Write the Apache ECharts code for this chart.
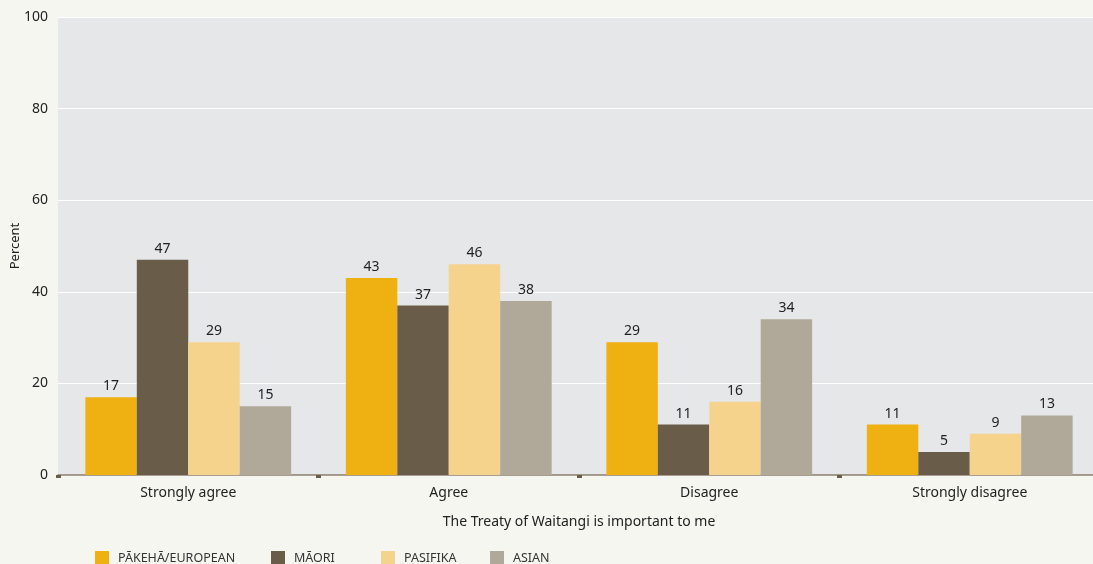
<html style="height: 100%">
<head>
<meta charset="utf-8">
</head>
<body style="height: 100%; width: 100%; margin: 0; background: #f6f6f1">
<div id="container" style="height: 100%; width: 100%;"></div>
<script src="https://cdn.jsdelivr.net/npm/echarts@6/dist/echarts.min.js"></script>
<script type="text/javascript">
var categories = ['Strongly agree', 'Agree', 'Disagree', 'Strongly disagree'];
var seriesNames = ['PĀKEHĀ/EUROPEAN', 'MĀORI', 'PASIFIKA', 'ASIAN'];
var pakeha = [17, 43, 29, 11];
var maori = [47, 37, 11, 5];
var pasifika = [29, 46, 16, 9];
var asian = [15, 38, 34, 13];
var colors = ['#eeb111', '#695d4a', '#f6d38c', '#b0a999'];
var legendLeft = [95, 271, 381, 490];

var myChart = echarts.init(document.getElementById('container'));
var font = '"Noto Sans", sans-serif';

function makeSeries(name, data) {
	return {
		name: name,
		type: 'bar',
		data: data,
		barGap: 0,
		barCategoryGap: '21%',
		label: {
			show: true,
			position: 'top',
			distance: 4,
			color: '#222',
			fontSize: 14,
			fontFamily: font
		}
	};
}

// one legend per item so each sits where it does in the print
var legends = [];
for (var i = 0; i < seriesNames.length; i++) {
	legends.push({
		bottom: -1,
		left: legendLeft[i],
		padding: 0,
		itemWidth: 14,
		itemHeight: 14,
		icon: 'rect',
		textStyle: { fontSize: 12.5, color: '#333', fontFamily: font, padding: [0, 0, 0, 4] },
		data: [seriesNames[i]]
	});
}

var option = {
	backgroundColor: '#f6f6f1',
	color: colors,
	animation: false,
	textStyle: { fontFamily: font },
	grid: {
		left: 58,
		top: 17,
		width: 1042,
		bottom: 89,
		outerBoundsMode: 'none',
		containLabel: false,
		show: true,
		backgroundColor: '#e6e7e9',
		borderWidth: 0
	},
	legend: legends,
	xAxis: {
		type: 'category',
		data: categories,
		name: 'The Treaty of Waitangi is important to me',
		nameLocation: 'middle',
		nameGap: 40,
		nameTextStyle: { fontSize: 14, color: '#222' },
		axisLine: { lineStyle: { color: '#8a7f6d', width: 1.5 } },
		axisTick: { show: true, length: 3, lineStyle: { color: '#695d4a', width: 5 } },
		axisLabel: { fontSize: 14, color: '#222', margin: 11 }
	},
	yAxis: {
		type: 'value',
		min: 0,
		max: 100,
		interval: 20,
		name: 'Percent',
		nameLocation: 'middle',
		nameGap: 36,
		nameMoveOverlap: false,
		nameTextStyle: { fontSize: 13, color: '#222' },
		axisLine: { show: false },
		axisTick: { show: false },
		axisLabel: { fontSize: 14, color: '#222', margin: 10 },
		splitLine: { lineStyle: { color: '#ffffff', width: 1 } }
	},
	series: [
		makeSeries(seriesNames[0], pakeha),
		makeSeries(seriesNames[1], maori),
		makeSeries(seriesNames[2], pasifika),
		makeSeries(seriesNames[3], asian)
	]
};

myChart.setOption(option);
</script>
</body>
</html>
